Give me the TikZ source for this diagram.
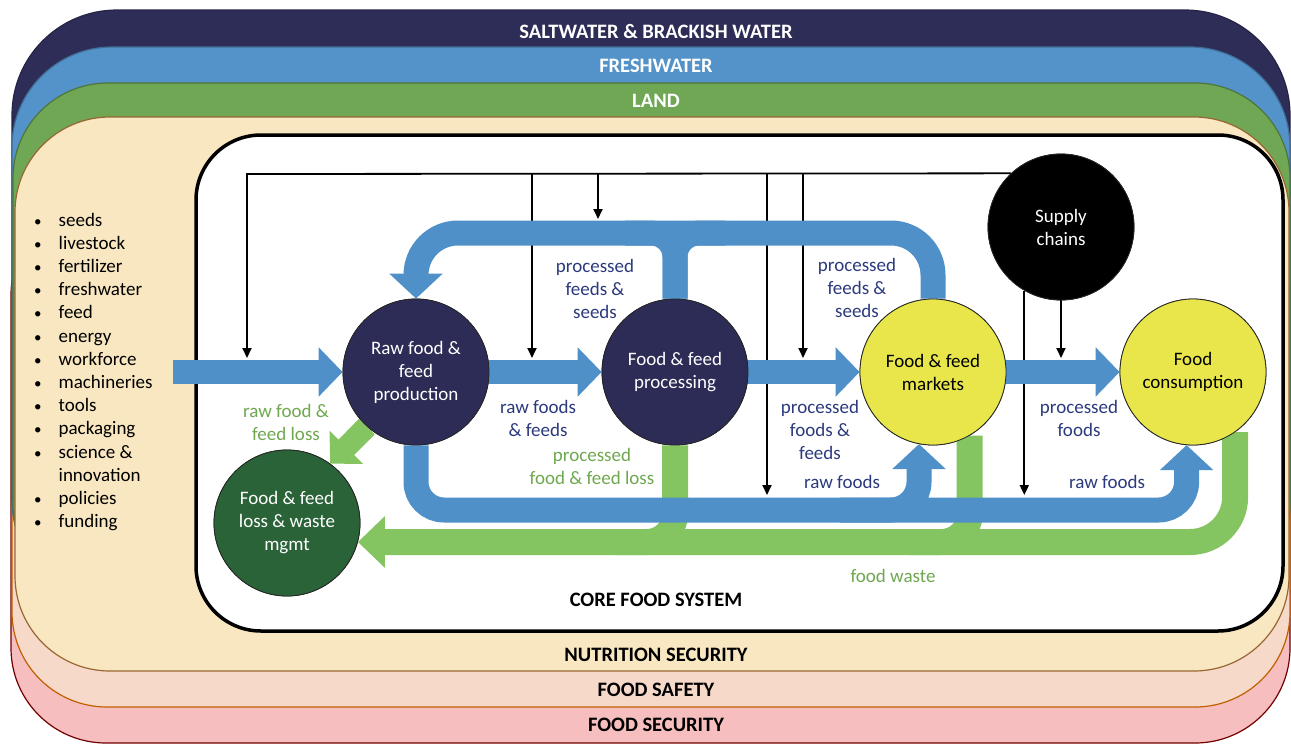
\documentclass[tikz,border=0pt]{standalone}
\usepackage{fontspec}
\setmainfont{Carlito}
\usetikzlibrary{arrows.meta}
\definecolor{navyband}{HTML}{2E2D57}
\definecolor{freshband}{HTML}{5493C9}
\definecolor{landband}{HTML}{6FA754}
\definecolor{creamband}{HTML}{F9E7C1}
\definecolor{safetyband}{HTML}{F7D9CA}
\definecolor{securityband}{HTML}{F6BEBE}
\definecolor{navycirc}{HTML}{2D2C56}
\definecolor{greencirc}{HTML}{2B6338}
\definecolor{yellowcirc}{HTML}{E8E64A}
\definecolor{arrblue}{HTML}{5090C8}
\definecolor{arrgreen}{HTML}{84C461}
\definecolor{labblue}{HTML}{2C3A7D}
\definecolor{labgreen}{HTML}{6EA84F}
\newcommand{\smallbul}{{\fontsize{15}{15}\selectfont\textbullet}}
\tikzset{
  band/.style={rounded corners=#1, line width=1.2pt},
  circ/.style={circle, minimum size=146pt, inner sep=0pt, draw=black!85, line width=0.8pt,
    align=center, font=\fontsize{19}{23}\selectfont},
  darkcirc/.style={circ, fill=navycirc, text=white},
  yellowc/.style={circ, fill=yellowcirc, text=black},
  title/.style={font=\fontsize{20.5}{24}\selectfont\bfseries, inner sep=0pt},
  lab/.style={align=center, font=\fontsize{19}{23}\selectfont, inner sep=0pt},
  blab/.style={lab, text=labblue},
  glab/.style={lab, text=labgreen},
  bluearr/.style={draw=arrblue, line width=24pt, -{Triangle[width=48pt,length=24pt]}},
  bluearrb/.style={draw=arrblue, line width=25pt, rounded corners=#1, -{Triangle[width=52pt,length=25pt]}},
  blueline/.style={draw=arrblue, line width=25pt, rounded corners=#1},
  greenarr/.style={draw=arrgreen, line width=26pt, rounded corners=#1, -{Triangle[width=50pt,length=27pt]}},
  greenline/.style={draw=arrgreen, line width=26pt, rounded corners=#1},
  blk/.style={draw=black, line width=1.8pt, -{Triangle[width=9pt,length=10pt]}},
}
\begin{document}
\begin{tikzpicture}[x=1pt,y=-1pt]
\useasboundingbox (0,0) rectangle (1291,745);
% outer layers
\draw[band=95, fill=securityband, draw=red!45!black] (11,200) rectangle (1290,743);
\draw[band=95, fill=safetyband, draw=orange!75!black] (12,200) rectangle (1290,707);
\draw[band=105, fill=navyband, draw=navyband!80!black] (12,10) rectangle (1290,600);
\draw[band=100, fill=freshband, draw=freshband!75!black] (12,47) rectangle (1290,600);
\draw[band=95, fill=landband, draw=landband!70!black] (13,83) rectangle (1290,600);
\draw[band=95, fill=creamband, draw=brown!80!black] (15,117) rectangle (1289,671);
\node[title, text=white] (tsalt) at (656,31) {SALTWATER \& BRACKISH WATER};
\node[title, text=white] (tfresh) at (656,66) {FRESHWATER};
\node[title, text=white] (tland) at (656,101) {LAND};
\node[title] (tnut) at (656,655) {NUTRITION SECURITY};
\node[title] (tsafe) at (656,690) {FOOD SAFETY};
\node[title] (tsec) at (656,725) {FOOD SECURITY};
% core box
\draw[rounded corners=65, line width=3.5pt, fill=white] (196,135) rectangle (1283,631);
\node[title] (tcore) at (656,600) {CORE FOOD SYSTEM};
% input list
\node[anchor=base west, inner sep=0pt, font=\fontsize{19}{23.2}\selectfont] (inputs) at (34,226)
{\begin{tabular}[t]{@{}l@{\hspace{17pt}}l@{}}
\smallbul & seeds\\
\smallbul & livestock\\
\smallbul & fertilizer\\
\smallbul & freshwater\\
\smallbul & feed\\
\smallbul & energy\\
\smallbul & workforce\\
\smallbul & machineries\\
\smallbul & tools\\
\smallbul & packaging\\
\smallbul & science \&\\
 & innovation\\
\smallbul & policies\\
\smallbul & funding
\end{tabular}};
% circles (positions)
\path
  node[darkcirc] (raw) at (416,372) {Raw food \&\\feed\\production}
  node[darkcirc] (proc) at (675,372) {Food \& feed\\processing}
  node[yellowc] (mkt) at (933,372) {Food \& feed\\markets}
  node[yellowc] (cons) at (1193,372) {Food\\consumption}
  node[circ, fill=black, text=white] (supply) at (1061,227) {Supply\\chains}
  node[circ, fill=greencirc, text=white] (loss) at (287,523) {Food \& feed\\loss \& waste\\mgmt};
% helper coordinates
\coordinate (tl) at (247,174);
\coordinate (ay) at (0,358);
\coordinate (dy) at (0,495);
\coordinate (by) at (0,510);
\coordinate (ty) at (0,233);
\coordinate (t2) at (532,174);
\coordinate (t3) at (598,174);
\coordinate (t4) at (767,174);
\coordinate (t5) at (803,174);
\coordinate (c3) at (598,219);
\coordinate (in) at (173,372);
\coordinate (mb) at (840,510);
\coordinate (gy) at (loss.-15);
% black arrows
\draw[blk] (supply.133) -- (tl) -- (tl |- ay);
\draw[blk] (t2) -- (t2 |- ay);
\draw[blk] (t3) -- (c3);
\draw[blk] (t4) -- (t4 |- dy);
\draw[blk] (t5) -- (t5 |- ay);
\draw[blk] (supply.240) -- (supply.240 |- dy);
\draw[blk] (supply.south) -- (supply.south |- ay);
% green arrows
\draw[greenline=28] (proc.south) -- (proc.south |- gy) -- ++(-60,0);
\draw[greenline=28] (mkt.-60) -- (mkt.-60 |- gy) -- ++(-60,0);
\draw[greenarr=45] (cons.-55) -- (cons.-55 |- gy) -- (gy);
\draw[draw=arrgreen, line width=22pt, -{Triangle[width=46pt,length=23pt]}] (raw.228) -- (loss.54);
% blue arrows
\draw[bluearr] (in) -- (raw.west);
\draw[bluearr] (raw.east) -- (proc.west);
\draw[bluearr] (proc.east) -- (mkt.west);
\draw[bluearr] (mkt.east) -- (cons.west);
\draw[bluearrb=42] (mkt.north) -- (mkt.north |- ty) -- (raw.north |- ty) -- (raw.north);
\draw[blueline=24] (proc.north) -- (proc.north |- ty) -- ++(-50,0);
\draw[blueline=24] (proc.north) -- (proc.north |- ty) -- ++(50,0);
\draw[bluearrb=28] (raw.south) -- (raw.south |- by) -- (cons.265 |- by) -- (cons.265);
\draw[bluearrb=28] (mb) -- (mkt.259 |- by) -- (mkt.259);
% redraw circles on top
\path
  node[darkcirc] at (raw) {Raw food \&\\feed\\production}
  node[darkcirc] at (proc) {Food \& feed\\processing}
  node[yellowc] at (mkt) {Food \& feed\\markets}
  node[yellowc] at (cons) {Food\\consumption}
  node[circ, fill=black, text=white] at (supply) {Supply\\chains}
  node[circ, fill=greencirc, text=white] at (loss) {Food \& feed\\loss \& waste\\mgmt};
% labels
\node[blab] (l1) at (595,289) {processed\\feeds \&\\seeds};
\node[blab] (l2) at (857,288) {processed\\feeds \&\\seeds};
\node[blab] (l3) at (538,418) {raw foods\\\& feeds};
\node[blab] (l4) at (820,430) {processed\\foods \&\\feeds};
\node[blab] (l5) at (1079,418) {processed\\foods};
\node[blab] (l6) at (842,482) {raw foods};
\node[blab] (l7) at (1107,482) {raw foods};
\node[glab] (g1) at (286,422) {raw food \&\\feed loss};
\node[glab] (g2) at (592,466) {processed\\food \& feed loss};
\node[glab] (g3) at (893,576) {food waste};
\end{tikzpicture}
\end{document}
